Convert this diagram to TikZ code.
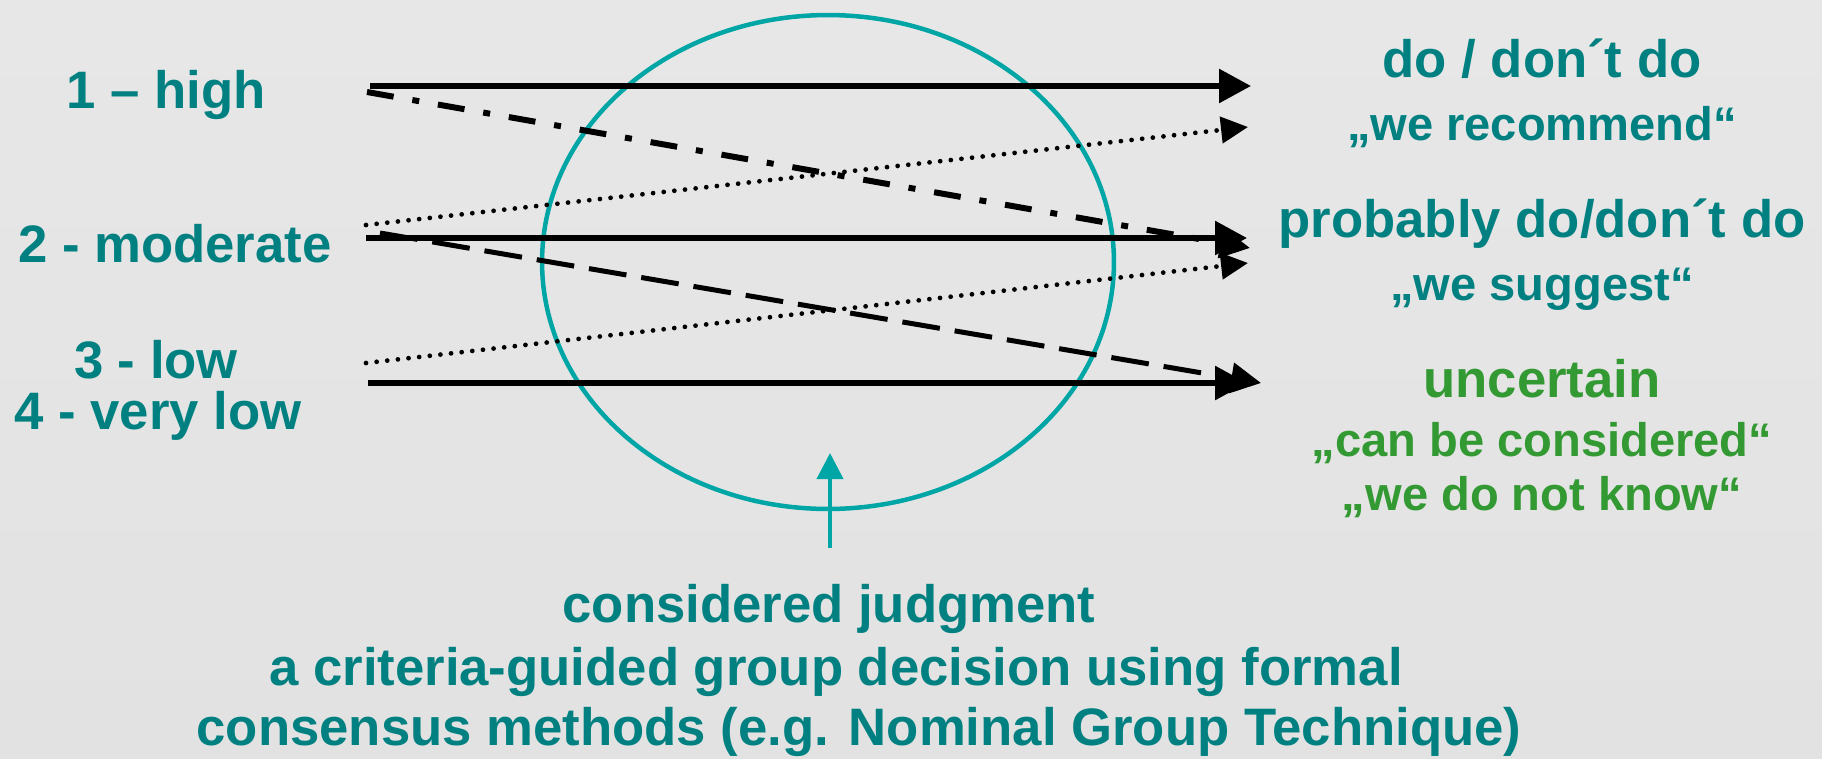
\documentclass[tikz,border=0pt]{standalone}
\usepackage{fontspec}
\setmainfont{Liberation Sans}
\usetikzlibrary{arrows.meta}
\definecolor{tealtxt}{RGB}{0,128,128}
\definecolor{greentxt}{RGB}{51,153,51}
\definecolor{ringc}{RGB}{0,166,166}
\definecolor{bgtop}{RGB}{231,231,231}
\definecolor{bgmid}{RGB}{238,238,238}
\definecolor{bgbot}{RGB}{226,226,226}
\begin{document}
\begin{tikzpicture}[x=0.02cm,y=-0.02cm,
  lbl/.style={font=\fontsize{30}{36}\selectfont\bfseries, text=tealtxt, inner sep=0pt, anchor=base},
  qlbl/.style={lbl, font=\fontsize{26.8}{32}\selectfont\bfseries},
  grn/.style={text=greentxt},
  solidarr/.style={line width=0.12cm, -{Triangle[length=0.64cm,width=0.66cm]}},
  dotarr/.style={line width=0.095cm, line cap=round, dash pattern=on 0pt off 0.214cm, -{Triangle[length=0.54cm,width=0.52cm]}},
  dashdotarr/.style={line width=0.12cm, dash pattern=on 0.54cm off 0.38cm on 0.14cm off 0.38cm, -{Triangle[length=0.6cm,width=0.6cm]}},
  dasharr/.style={line width=0.1cm, dash pattern=on 0.76cm off 0.3cm, -{Triangle[length=0.6cm,width=0.6cm]}},
  ring/.style={draw=ringc, line width=0.09cm},
  ringarr/.style={draw=ringc, line width=0.08cm, -{Triangle[length=0.52cm,width=0.52cm]}, color=ringc}
]
\shade[top color=bgtop, middle color=bgmid, bottom color=bgbot] (0,0) rectangle (1822,758);
\useasboundingbox (0,0) rectangle (1822,758);

% left labels
\node[lbl] (q1) at (166,108) {1 – high};
\node[lbl] (q2) at (175,262) {2 - moderate};
\node[lbl] (q3) at (156,378) {3 - low};
\node[lbl] (q4) at (158,429) {4 - very low};

% right labels
\node[lbl] (r1) at (1542,77) {do / don´t do};
\node[qlbl] (r1q) at (1542,140) {„we recommend“};
\node[lbl] (r2) at (1542,237) {probably do/don´t do};
\node[qlbl] (r2q) at (1542,300) {„we suggest“};
\node[lbl,grn] (r3) at (1542,397) {uncertain};
\node[qlbl,grn] (r3q) at (1542,456) {„can be considered“};
\node[qlbl,grn] (r3k) at (1542,510) {„we do not know“};

% bottom labels
\node[lbl] (b1) at (829,622) {considered judgment};
\node[lbl] (b2) at (836,685) {a criteria-guided group decision using formal};
\node[lbl] (b3) at (859,745) {consensus methods (e.g. Nominal Group Technique)};

% ellipse
\draw[ring] (828,262) ellipse [x radius=5.72cm, y radius=4.94cm];

% coordinates
\coordinate (s1) at (370,86);   \coordinate (e1) at (1251,86);
\coordinate (s2) at (366,238);  \coordinate (e2) at (1247,238);
\coordinate (s3) at (368,383);  \coordinate (e3) at (1247,383);
\coordinate (sdd) at (367,92);  \coordinate (edd) at (1250,248);
\coordinate (sda) at (380,233); \coordinate (eda) at (1261,383);
\coordinate (sdo1) at (366,225); \coordinate (edo1) at (1248,127);
\coordinate (sdo2) at (366,363); \coordinate (edo2) at (1248,263);
\coordinate (cs) at (830,548);  \coordinate (ce) at (830,453);

\draw[dotarr] (sdo1) -- (edo1);
\draw[dotarr] (sdo2) -- (edo2);
\draw[dashdotarr] (sdd) -- (edd);
\draw[dasharr] (sda) -- (eda);
\draw[solidarr] (s1) -- (e1);
\draw[solidarr] (s2) -- (e2);
\draw[solidarr] (s3) -- (e3);
\draw[ringarr] (cs) -- (ce);
\end{tikzpicture}
\end{document}
